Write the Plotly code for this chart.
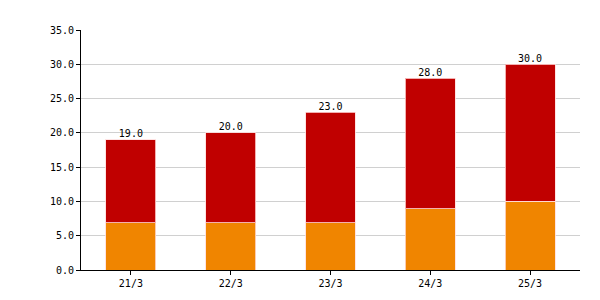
import plotly.graph_objects as go

categories = ["21/3", "22/3", "23/3", "24/3", "25/3"]
lower_vals = [6.9, 6.9, 6.9, 8.9, 10.0]
totals = [19.0, 20.0, 23.0, 28.0, 30.0]
upper_vals = [t - l for t, l in zip(totals, lower_vals)]
y_ticks = [0, 5, 10, 15, 20, 25, 30, 35]

FONT = "DejaVu Sans Mono"

fig = go.Figure()
fig.add_trace(go.Bar(x=categories, y=lower_vals, marker=dict(color="#F08500", line=dict(color="rgba(255,220,220,0.8)", width=1)),
                     width=0.5, hoverinfo="skip"))
fig.add_trace(go.Bar(x=categories, y=upper_vals, marker=dict(color="#C00000", line=dict(color="rgba(255,220,220,0.8)", width=1)),
                     width=0.5, hoverinfo="skip"))
fig.add_trace(go.Scatter(x=categories, y=totals, mode="text", text=[f"{t:.1f}" for t in totals],
                         textposition="top center", textfont=dict(family=FONT, size=10, color="#000"),
                         hoverinfo="skip", cliponaxis=False))

fig.update_layout(
    width=600, height=300, barmode="stack", showlegend=False,
    margin=dict(l=73, r=28, t=22, b=38),
    paper_bgcolor="white", plot_bgcolor="white",
    font=dict(family=FONT, size=10, color="#000"),
    xaxis=dict(showline=True, linecolor="#000", linewidth=1, ticks="outside", ticklen=4, tickcolor="#000",
               showgrid=False, tickfont=dict(family=FONT, size=10, color="#000")),
    yaxis=dict(range=[0, 35], tickvals=y_ticks, tickformat=".1f", showline=True, linecolor="#000", linewidth=1,
               ticks="outside", ticklen=4, tickcolor="#000", showgrid=True, gridcolor="#d0d0d0", gridwidth=1,
               zeroline=False, tickfont=dict(family=FONT, size=10, color="#000")),
)
fig.write_html("out.html")
